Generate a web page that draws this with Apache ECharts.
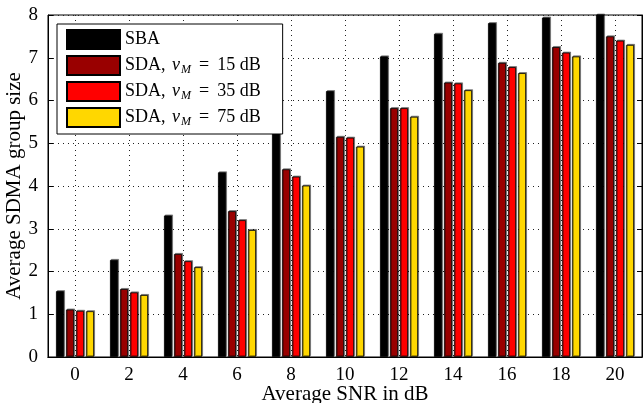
<!DOCTYPE html>
<html><head><meta charset="utf-8">
<script src="https://cdn.jsdelivr.net/npm/echarts@6/dist/echarts.min.js"></script>
<style>html,body{margin:0;padding:0;background:#fff}#c{width:644px;height:403px}</style>
</head><body><div id="c"></div>
<script>
const categories = ['0','2','4','6','8','10','12','14','16','18','20'];
const sba   = [1.54, 2.27, 3.31, 4.32, 5.33, 6.22, 7.03, 7.56, 7.81, 7.94, 8.05];
const sda15 = [1.11, 1.59, 2.41, 3.41, 4.39, 5.15, 5.82, 6.42, 6.88, 7.25, 7.50];
const sda35 = [1.08, 1.51, 2.24, 3.20, 4.22, 5.13, 5.82, 6.40, 6.78, 7.12, 7.40];
const sda75 = [1.07, 1.45, 2.10, 2.97, 4.01, 4.92, 5.62, 6.24, 6.64, 7.03, 7.30];
const yTicks = [0,1,2,3,4,5,6,7,8];
const seriesNames = ['SBA','SDA15','SDA35','SDA75'];
const legendLabels = {
  SBA: 'SBA',
  SDA15: 'SDA, {i|ν}{s|M}{e|=}{n|15 dB}',
  SDA35: 'SDA, {i|ν}{s|M}{e|=}{n|35 dB}',
  SDA75: 'SDA, {i|ν}{s|M}{e|=}{n|75 dB}'
};
const colors = ['#000000','#990000','#ff0000','#ffd700'];
const FF = 'Liberation Serif';
const chart = echarts.init(document.getElementById('c'));
const dotted = {show:true, lineStyle:{color:'#222', type:[1,4], width:1}};
function mk(i, data){
  return {name: seriesNames[i], type:'bar', data: data, barWidth: 8, barGap:'25%',
    xAxisIndex:0, yAxisIndex:0,
    itemStyle:{color:colors[i], borderColor:'#000', borderWidth:0.8,
      shadowColor:'rgba(0,0,0,0.45)', shadowOffsetX:1, shadowOffsetY:-1, shadowBlur:0}};
}
chart.setOption({
  animation:false,
  textStyle:{fontFamily:FF},
  grid:{left:48, right:2, top:15, bottom:46, outerBoundsMode:'none', containLabel:false,
    show:true, borderColor:'#000', borderWidth:1},
  legend:{show:true, orient:'vertical', left:57, top:24, itemWidth:53, itemHeight:19, itemGap:5,
    itemTextGap:4, icon:'rect',
    borderColor:'#000', borderWidth:1, padding:[5,22,6,9], backgroundColor:'#fff',
    data: seriesNames,
    formatter: n => legendLabels[n],
    textStyle:{fontFamily:FF, fontSize:18, color:'#000',
      rich:{
        i:{fontFamily:FF, fontStyle:'italic', fontSize:18, color:'#000', padding:[0,1,0,2]},
        s:{fontFamily:FF, fontStyle:'italic', fontSize:12, color:'#000', padding:[9,0,0,0]},
        e:{fontFamily:FF, fontSize:18, color:'#000', padding:[0,8,0,8]},
        n:{fontFamily:FF, fontSize:18, color:'#000'}
      }}},
  xAxis:[{type:'category', data:categories, position:'bottom',
    axisLine:{lineStyle:{color:'#000'}},
    axisTick:{alignWithLabel:true, inside:true, length:5, lineStyle:{color:'#000'}},
    axisLabel:{color:'#000', fontSize:19, fontFamily:FF, margin:9},
    splitLine:Object.assign({alignWithLabel:true}, dotted),
    name:'Average SNR in dB', nameLocation:'middle', nameGap:27, nameMoveOverlap:false,
    nameTextStyle:{color:'#000', fontSize:21, fontFamily:FF}},
   {type:'category', data:categories, position:'top',
    axisLine:{lineStyle:{color:'#000'}},
    axisTick:{alignWithLabel:true, inside:true, length:5, lineStyle:{color:'#000'}},
    axisLabel:{show:false}, splitLine:{show:false}}],
  yAxis:[{type:'value', min:0, max:8, interval:1, position:'left',
    axisLine:{show:true, lineStyle:{color:'#000'}},
    axisTick:{show:true, inside:true, length:5, lineStyle:{color:'#000'}},
    axisLabel:{color:'#000', fontSize:19, fontFamily:FF, margin:10,
      formatter: v => yTicks.includes(v) ? String(v) : ''},
    splitLine:dotted,
    name:'Average SDMA group size', nameLocation:'middle', nameGap:23, nameMoveOverlap:false,
    nameTextStyle:{color:'#000', fontSize:21, fontFamily:FF}},
   {type:'value', min:0, max:8, interval:1, position:'right',
    axisLine:{show:true, lineStyle:{color:'#000'}},
    axisTick:{show:true, inside:true, length:5, lineStyle:{color:'#000'}},
    axisLabel:{show:false}, splitLine:{show:false}}],
  series:[mk(0,sba), mk(1,sda15), mk(2,sda35), mk(3,sda75)]
});
</script></body></html>
